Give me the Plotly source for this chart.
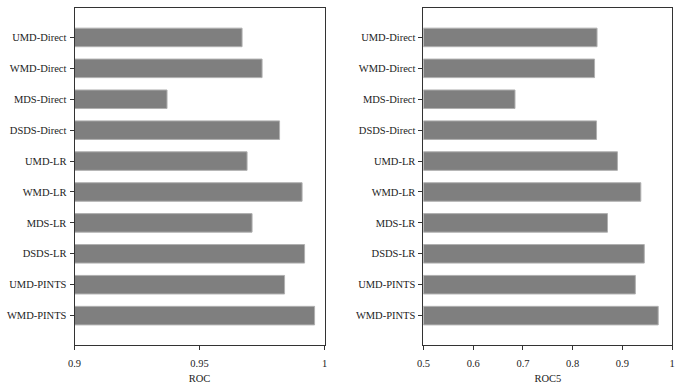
import plotly.graph_objects as go

categories = ["UMD-Direct", "WMD-Direct", "MDS-Direct", "DSDS-Direct", "UMD-LR",
              "WMD-LR", "MDS-LR", "DSDS-LR", "UMD-PINTS", "WMD-PINTS"]
roc = [0.967, 0.975, 0.937, 0.982, 0.969, 0.991, 0.971, 0.992, 0.984, 0.996]
roc5 = [0.849, 0.844, 0.684, 0.848, 0.890, 0.937, 0.870, 0.944, 0.926, 0.972]

fig = go.Figure()
bar_style = dict(orientation="h", marker=dict(color="#7f7f7f", line=dict(color="#b0b0b0", width=1)),
                 width=0.6, showlegend=False)
fig.add_trace(go.Bar(x=roc, y=categories, xaxis="x", yaxis="y", **bar_style))
fig.add_trace(go.Bar(x=roc5, y=categories, xaxis="x2", yaxis="y2", **bar_style))

font = dict(family="Liberation Serif, Times New Roman, serif", size=10.5, color="#222222")
axis_common = dict(showline=True, linecolor="#333333", linewidth=1, mirror=True,
                   ticks="outside", ticklen=4, tickcolor="#333333", showgrid=False,
                   zeroline=False, tickfont=font)

fig.update_layout(
    width=685, height=384,
    margin=dict(l=0, r=0, t=0, b=0),
    paper_bgcolor="white", plot_bgcolor="white",
    font=font,
    xaxis=dict(domain=[0.1000, 0.4705], range=[0.9, 1.0], tickvals=[0.9, 0.95, 1.0],
               ticktext=["0.9", "0.95", "1"], anchor="y", ticklabelstandoff=4,
               title=dict(text="ROC", font=font, standoff=8), **axis_common),
    yaxis=dict(domain=[0.1016, 0.979], categoryorder="array", categoryarray=categories,
               range=[9.95, -0.95], autorange=False, anchor="x", ticklabelstandoff=1,
               **axis_common),
    xaxis2=dict(domain=[0.6170, 0.9854], range=[0.5, 1.0],
                tickvals=[0.5, 0.6, 0.7, 0.8, 0.9, 1.0],
                ticktext=["0.5", "0.6", "0.7", "0.8", "0.9", "1"], anchor="y2",
                ticklabelstandoff=4,
                title=dict(text="ROC5", font=font, standoff=8), **axis_common),
    yaxis2=dict(domain=[0.1016, 0.979], categoryorder="array", categoryarray=categories,
                range=[9.95, -0.95], autorange=False, anchor="x2", ticklabelstandoff=1,
                **axis_common),
)

fig.write_html("out.html", config={"displayModeBar": False},
               post_script="document.body.style.margin='0';document.body.style.overflow='hidden';")
